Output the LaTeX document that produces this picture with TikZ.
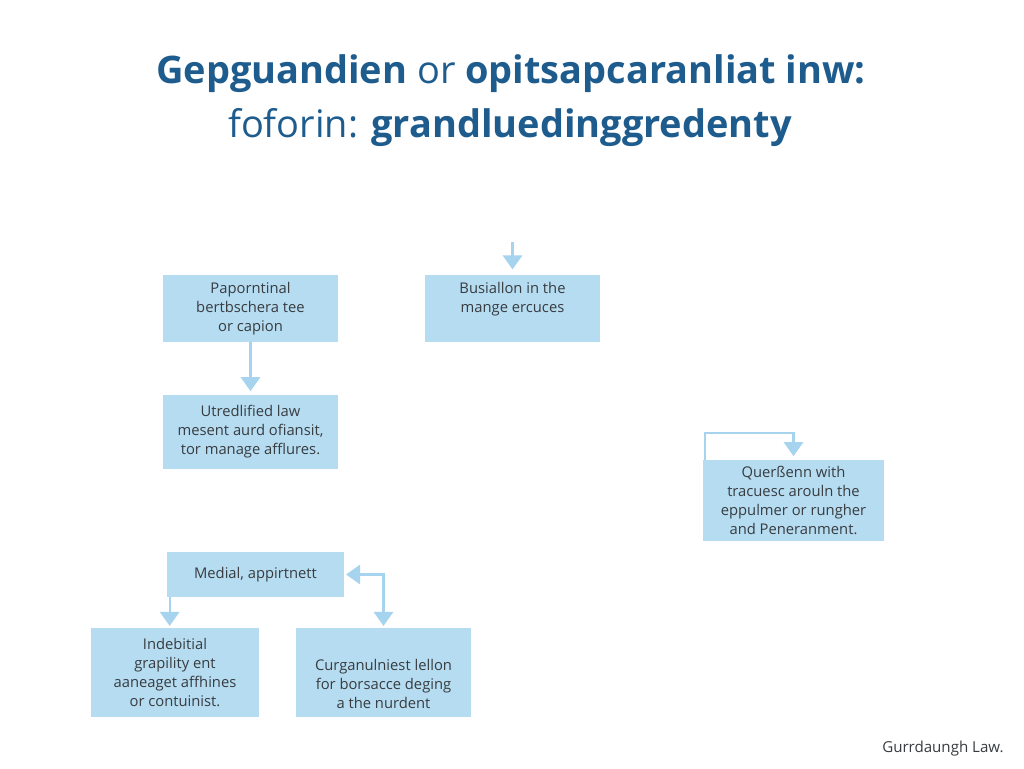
\documentclass[tikz,border=0pt]{standalone}
\usepackage{fontspec}
\setmainfont{Open Sans}
\usepackage{tikz}
\usepackage{xcolor}
\usetikzlibrary{arrows.meta,positioning}

\definecolor{boxblue}{HTML}{B5DCF1}
\definecolor{flowblue}{HTML}{A6D3EE}
\definecolor{titleblue}{HTML}{1E5C8E}
\definecolor{textgray}{HTML}{383C40}

\begin{document}
\begin{tikzpicture}[x=0.02cm,y=-0.02cm]
\tikzstyle{every node}+=[inner sep=0pt]
\tikzstyle{box}=[fill=boxblue, text=textgray, align=center, font=\fontsize{8.4}{10.8}\selectfont]
\tikzstyle{flow}=[draw=flowblue, line width=1.2pt, -{Triangle[width=11pt,length=8pt]}]
\useasboundingbox [fill=white] (0,0) rectangle (1024,768);
% title
\node (title1) [anchor=base, text=titleblue, font=\fontsize{21.6}{26}\selectfont] at (511,83)
  {\textbf{Gepguandien} or \textbf{opitsapcaranliat inw:}};
\node (title2) [anchor=base, text=titleblue, font=\fontsize{21.6}{26}\selectfont] at (510,137)
  {foforin: \textbf{grandluedinggredenty}};
% boxes
\node (pap) [box, minimum width=3.5cm, minimum height=1.34cm] at (250.5,308.5)
  {Paporntinal\\bertbschera tee\\or capion};
\node (bus) [box, minimum width=3.5cm, minimum height=1.34cm,
  label={[box, fill=none, yshift=0.18cm]center:Busiallon in the\\mange ercuces}] at (512.5,308.5) {};
\node (utr) [box, minimum width=3.5cm, minimum height=1.48cm] at (250.5,432)
  {Utredlified law\\mesent aurd ofiansit,\\tor manage afflures.};
\node (que) [box, minimum width=3.62cm, minimum height=1.62cm] at (793.5,500.5)
  {Quer\ss enn with\\tracuesc arouln the\\eppulmer or rungher\\and Peneranment.};
\node (med) [box, minimum width=3.54cm, minimum height=0.9cm] at (255.5,574.5)
  {Medial, appirtnett};
\node (ind) [box, minimum width=3.36cm, minimum height=1.78cm] at (175,672.5)
  {Indebitial\\grapility ent\\aaneaget affhines\\or contuinist.};
\node (cur) [box, minimum width=3.5cm, minimum height=1.78cm,
  label={[box, fill=none, yshift=-0.22cm]center:Curganulniest lellon\\for borsacce deging\\a the nurdent}] at (383.5,672.5) {};
\node (foot) [anchor=base east, text=textgray, font=\fontsize{8.6}{10}\selectfont] at (1004,752)
  {Gurrdaungh Law.};
% connectors
\coordinate (busin) at (512.5,242);
\draw [flow, shorten >=3pt] (busin) -- (bus.north);
\draw [flow, shorten >=2pt] (pap.south) -- (utr.north);
\draw [flow, shorten >=2pt] ([xshift=0.04cm]que.north west) -- ++(0,-27) -| (que.north);
\draw [flow, shorten >=1pt] ([xshift=0.06cm]med.south west) -- ([xshift=0.06cm]med.south west |- ind.north);
\draw [flow, {Triangle[width=11pt,length=8pt]}-{Triangle[width=11pt,length=8pt]}, shorten <=1pt, shorten >=1pt] (med.east) -| (cur.north);
\end{tikzpicture}
\end{document}
